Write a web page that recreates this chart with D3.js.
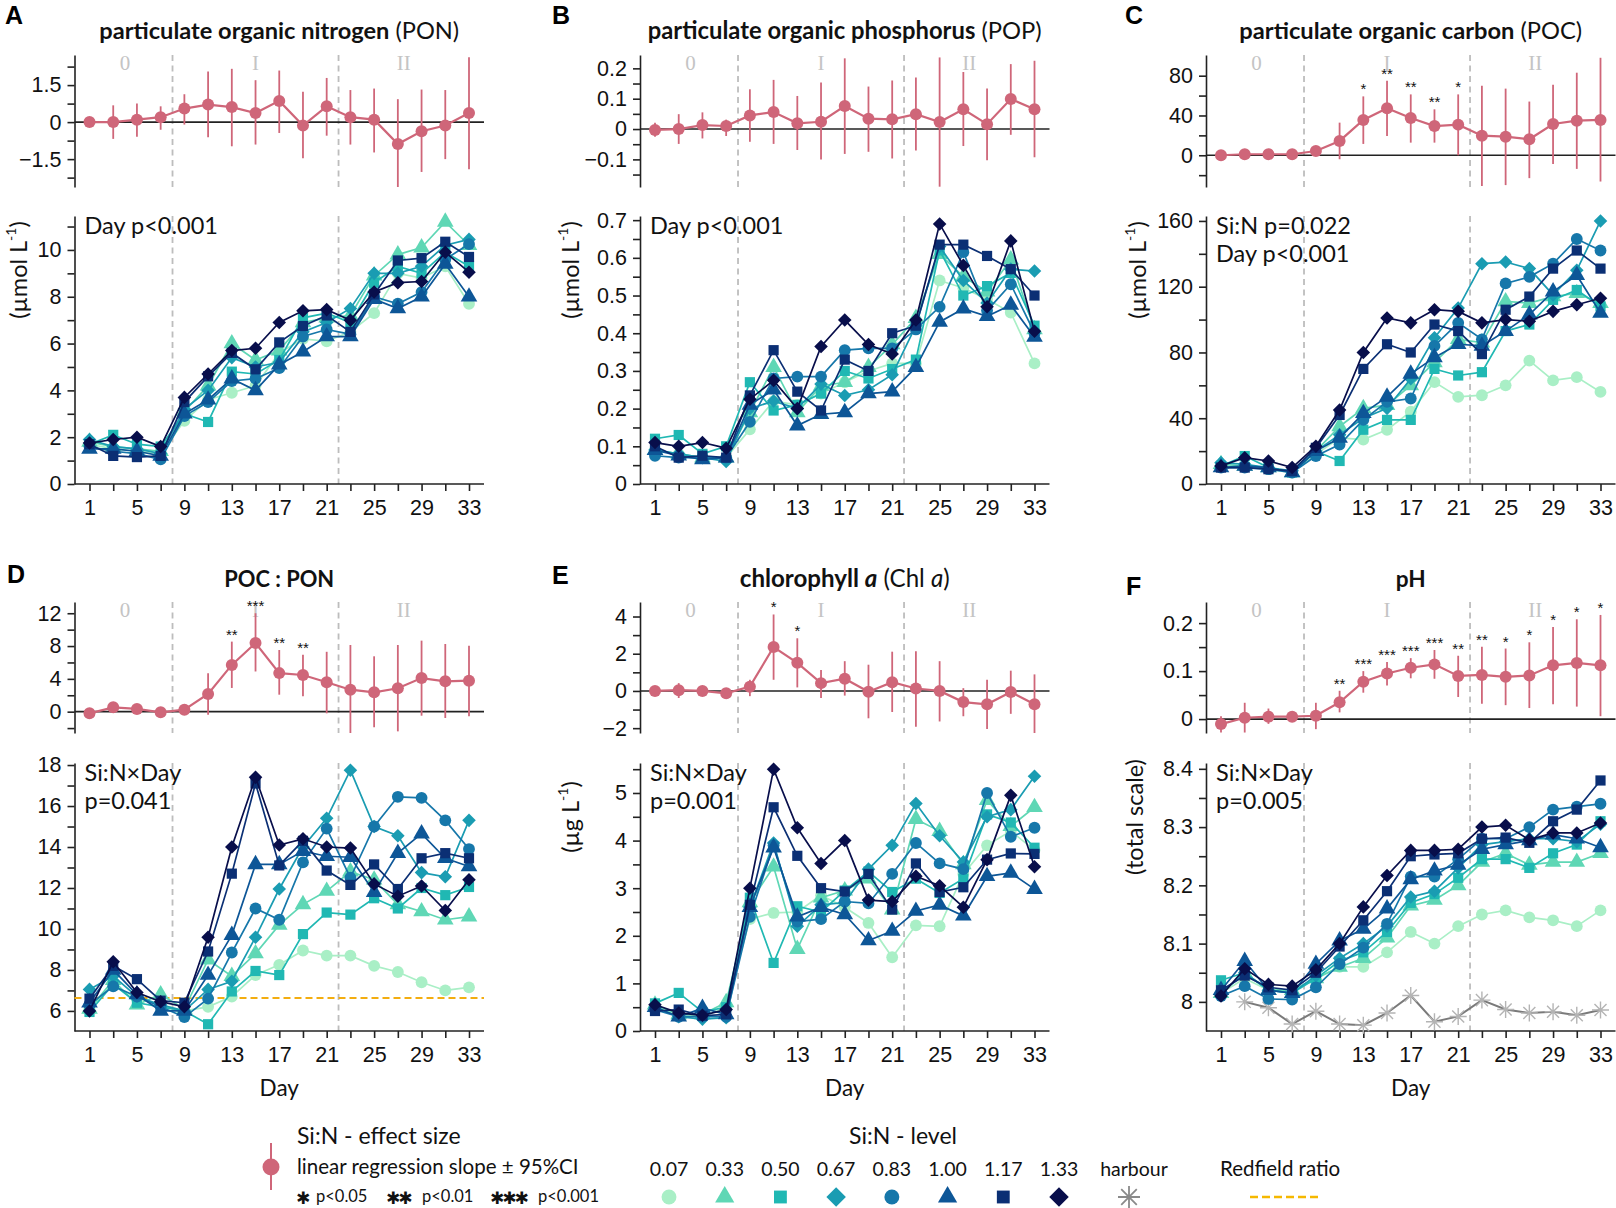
<!DOCTYPE html>
<html>
<head>
<meta charset="utf-8">
<script src="https://cdn.jsdelivr.net/npm/d3@7"></script>
<style>
  body { margin: 0; background: #fff; }
  svg { display: block; }
</style>
</head>
<body>
<svg id="fig" width="1616" height="1208"></svg>
<script>
// ---------- data ----------
const days = [1, 3, 5, 7, 9, 11, 13, 15, 17, 19, 21, 23, 25, 27, 29, 31, 33];
const dayLabels = [1, 5, 9, 13, 17, 21, 25, 29, 33];
const phaseLines = [8, 22];
const phaseNames = ['0', 'I', 'II'];
const phaseCenters = [4, 15, 27.5];

const levels = ['0.07', '0.33', '0.50', '0.67', '0.83', '1.00', '1.17', '1.33'];
const levelColors = ['#a9efc6', '#5fd7b5', '#20b8b3', '#1a9cb2', '#1677aa', '#0d5697', '#0b2f74', '#080e4b'];
const levelShapes = ['circle', 'triangle', 'square', 'diamond', 'circle', 'triangle', 'square', 'diamond'];

// A: PON (µmol/L), one row per Si:N level
const ponSeries = [
  [1.7, 1.5, 1.4, 1.3, 2.7, 3.6, 3.9, 4.2, 5.6, 6.2, 6.1, 6.5, 7.3, 9.0, 8.8, 9.3, 7.7],
  [1.8, 1.6, 1.5, 1.4, 3.1, 4.2, 6.0, 5.3, 5.7, 6.9, 7.1, 7.2, 8.9, 9.8, 10.1, 11.2, 10.2],
  [1.7, 2.1, 1.7, 1.6, 3.0, 2.65, 4.8, 4.7, 5.3, 7.1, 7.3, 6.9, 8.6, 9.3, 9.0, 9.9, 9.3],
  [1.9, 1.6, 1.5, 1.3, 3.2, 4.0, 5.4, 5.0, 5.2, 6.5, 6.9, 7.5, 9.0, 9.0, 9.3, 10.2, 10.45],
  [1.6, 1.4, 1.3, 1.05, 2.9, 3.5, 4.4, 4.5, 4.95, 6.3, 6.6, 6.4, 8.0, 7.7, 8.2, 9.6, 10.25],
  [1.5, 1.5, 1.4, 1.2, 3.0, 3.6, 4.5, 4.0, 5.1, 5.65, 6.3, 6.3, 7.9, 7.5, 8.0, 9.4, 8.0],
  [1.7, 1.2, 1.15, 1.2, 3.5, 4.6, 5.6, 4.9, 6.05, 6.75, 7.2, 6.5, 8.1, 9.55, 9.65, 10.35, 9.7],
  [1.75, 1.9, 2.0, 1.6, 3.7, 4.7, 5.7, 5.8, 6.9, 7.4, 7.45, 7.0, 8.2, 8.6, 8.65, 9.9, 9.05]
];
const ponEffect = [0, 0, 0.1, 0.2, 0.55, 0.71, 0.61, 0.37, 0.86, -0.14, 0.64, 0.2, 0.1, -0.89, -0.37, -0.14, 0.37];
const ponLow = [0, -0.68, -0.59, -0.31, -0.1, -0.61, -0.98, -0.91, -0.44, -1.46, -0.55, -0.91, -1.23, -2.7, -2.02, -1.5, -1.91];
const ponHigh = [0, 0.68, 0.75, 0.64, 1.13, 2.05, 2.16, 1.7, 2.09, 1.23, 1.79, 1.3, 1.36, 0.93, 1.32, 1.3, 2.63];
const ponStars = ['', '', '', '', '', '', '', '', '', '', '', '', '', '', '', '', ''];

// B: POP (µmol/L)
const popSeries = [
  [0.09, 0.08, 0.07, 0.07, 0.145, 0.22, 0.21, 0.24, 0.27, 0.30, 0.32, 0.32, 0.54, 0.52, 0.49, 0.455, 0.32],
  [0.09, 0.08, 0.07, 0.07, 0.19, 0.31, 0.19, 0.26, 0.27, 0.31, 0.37, 0.44, 0.61, 0.55, 0.51, 0.595, 0.41],
  [0.12, 0.13, 0.08, 0.10, 0.27, 0.195, 0.21, 0.24, 0.30, 0.28, 0.305, 0.33, 0.62, 0.50, 0.525, 0.56, 0.42],
  [0.09, 0.08, 0.07, 0.06, 0.20, 0.22, 0.20, 0.265, 0.235, 0.25, 0.29, 0.42, 0.63, 0.54, 0.48, 0.57, 0.565],
  [0.075, 0.07, 0.07, 0.07, 0.165, 0.28, 0.285, 0.285, 0.355, 0.36, 0.36, 0.41, 0.47, 0.615, 0.46, 0.53, 0.40],
  [0.09, 0.075, 0.065, 0.07, 0.21, 0.25, 0.155, 0.185, 0.19, 0.24, 0.245, 0.31, 0.43, 0.465, 0.445, 0.475, 0.39],
  [0.10, 0.07, 0.075, 0.07, 0.235, 0.355, 0.245, 0.195, 0.33, 0.30, 0.40, 0.42, 0.635, 0.635, 0.605, 0.57, 0.50],
  [0.11, 0.10, 0.11, 0.095, 0.225, 0.275, 0.20, 0.365, 0.435, 0.37, 0.345, 0.435, 0.69, 0.58, 0.47, 0.645, 0.405]
];
const popEffect = [-0.003, 0, 0.013, 0.01, 0.045, 0.056, 0.019, 0.024, 0.076, 0.034, 0.032, 0.049, 0.023, 0.065, 0.016, 0.099, 0.065];
const popLow = [-0.025, -0.049, -0.031, -0.023, -0.042, -0.049, -0.069, -0.1, -0.082, -0.075, -0.097, -0.071, -0.19, -0.056, -0.103, -0.019, -0.093];
const popHigh = [0.021, 0.049, 0.055, 0.031, 0.131, 0.162, 0.109, 0.153, 0.233, 0.14, 0.16, 0.17, 0.236, 0.188, 0.134, 0.214, 0.225];
const popStars = ['', '', '', '', '', '', '', '', '', '', '', '', '', '', '', '', ''];

// C: POC (µmol/L)
const pocSeries = [
  [11, 11, 9, 7, 18, 28, 27, 33, 44, 62, 53, 54, 60, 75, 63, 65, 56],
  [12, 11, 10, 7, 20, 35, 46, 48, 60, 74, 88, 86, 111, 110, 114, 116, 110],
  [11, 17, 10, 7, 20, 14, 33, 39, 39, 70, 66, 68, 93, 97, 112, 118, 108],
  [13, 12, 10, 8, 20, 30, 40, 46, 64, 89, 107, 134, 135, 131, 115, 130, 160],
  [10, 10, 9, 7, 17, 24, 39, 50, 52, 84, 98, 88, 122, 126, 134, 149, 142],
  [10, 11, 10, 7, 20, 28, 43, 53, 67, 77, 85, 84, 93, 103, 117, 127, 104],
  [10, 10, 9, 8, 22, 42, 70, 85, 80, 97, 93, 79, 106, 114, 131, 142, 131],
  [11, 16, 14, 10, 23, 45, 80, 101, 98, 106, 105, 98, 100, 99, 105, 109, 113]
];
const pocEffect = [0, 1, 1, 1, 4.3, 14.4, 35.5, 47.2, 37.5, 29.4, 30.8, 19.7, 18.7, 16.1, 31.4, 34.8, 35.5];
const pocLow = [0, 0, 0, 0, 2, -4, 11.4, 19.4, 12.7, 12.7, 0, -31, -30, -23, -8.7, -13.7, -26.4];
const pocHigh = [0, 2, 2, 2, 6, 32.8, 59.2, 75, 61.2, 46.2, 61.2, 70, 67, 54, 71, 83, 98];
const pocStars = ['', '', '', '', '', '', '*', '**', '**', '**', '*', '', '', '', '', '', ''];

// D: POC:PON (mol:mol)
const ratioSeries = [
  [6.1, 7.3, 6.6, 6.3, 6.0, 6.2, 6.7, 7.75, 8.25, 8.95, 8.7, 8.7, 8.2, 7.9, 7.4, 7.0, 7.15],
  [6.1, 7.5, 6.3, 6.8, 6.1, 8.5, 7.7, 8.8, 10.2, 11.2, 11.85, 12.8, 12.4, 11.2, 10.85, 10.45, 10.6],
  [5.95, 7.3, 6.4, 6.2, 6.0, 5.35, 6.95, 7.95, 7.75, 9.75, 10.8, 10.7, 11.5, 11.0, 12.0, 11.65, 12.05],
  [7.05, 7.7, 6.7, 6.3, 6.0, 7.05, 7.45, 9.6, 11.95, 14.0, 15.4, 17.75, 15.0, 14.55, 12.75, 12.55, 15.3],
  [6.3, 7.2, 6.7, 6.2, 5.7, 6.6, 8.85, 11.0, 10.45, 13.25, 14.9, 12.5, 15.0, 16.45, 16.4, 15.3, 13.9],
  [6.4, 8.0, 6.8, 6.0, 6.0, 7.75, 9.7, 13.15, 13.15, 13.8, 13.55, 13.5, 11.8, 13.7, 14.65, 13.45, 13.05],
  [6.6, 8.2, 7.55, 6.5, 6.4, 8.9, 12.7, 17.1, 13.1, 14.3, 12.85, 12.15, 13.15, 11.95, 13.45, 13.7, 13.45],
  [6.0, 8.4, 6.9, 6.45, 6.2, 9.6, 14.0, 17.4, 14.1, 14.4, 14.0, 13.95, 12.2, 11.6, 12.1, 10.9, 12.4]
];
const ratioEffect = [-0.2, 0.53, 0.33, -0.08, 0.24, 2.15, 5.7, 8.37, 4.7, 4.47, 3.58, 2.68, 2.36, 2.85, 4.1, 3.7, 3.78];
const ratioLow = [-0.4, 0, 0, -0.2, 0, -0.37, 2.89, 4.9, 2.07, 1.87, -0.2, -2.64, -1.9, -2.4, -0.49, -0.77, -0.57];
const ratioHigh = [0, 0.9, 0.7, 0, 0.5, 4.67, 8.54, 12, 7.52, 6.95, 7.3, 8.13, 6.75, 8.13, 8.66, 8.25, 8.05];
const ratioStars = ['', '', '', '', '', '', '**', '***', '**', '**', '', '', '', '', '', '', ''];
const redfield = 6.625;

// E: chlorophyll a (µg/L)
const chlSeries = [
  [0.5, 0.35, 0.3, 0.5, 2.35, 2.48, 2.5, 2.85, 2.6, 2.27, 1.55, 2.22, 2.2, 3.3, 3.9, 4.2, 3.8],
  [0.55, 0.35, 0.35, 0.6, 2.7, 3.45, 1.72, 2.8, 2.95, 3.2, 2.55, 4.45, 4.2, 3.5, 4.85, 4.3, 4.7],
  [0.58, 0.8, 0.4, 0.5, 2.8, 1.43, 2.62, 2.5, 2.95, 3.35, 2.92, 3.2, 2.9, 3.2, 4.55, 4.38, 3.85],
  [0.5, 0.3, 0.25, 0.28, 2.6, 3.95, 2.2, 2.65, 2.7, 3.4, 3.9, 4.78, 4.1, 3.55, 4.5, 4.65, 5.35],
  [0.45, 0.3, 0.3, 0.3, 2.4, 3.9, 2.3, 2.35, 2.72, 2.68, 3.3, 3.95, 3.52, 3.4, 5.0, 4.08, 4.27],
  [0.5, 0.3, 0.48, 0.35, 2.6, 3.85, 2.4, 2.6, 2.45, 1.9, 2.1, 2.52, 2.65, 2.42, 3.25, 3.32, 2.98],
  [0.42, 0.45, 0.32, 0.35, 2.65, 4.7, 3.68, 3.0, 2.93, 3.3, 2.55, 3.52, 2.92, 3.02, 3.6, 3.73, 3.72],
  [0.55, 0.38, 0.33, 0.45, 3.0, 5.5, 4.27, 3.52, 4.0, 2.75, 2.72, 3.25, 3.05, 2.6, 3.6, 4.95, 3.45]
];
const chlEffect = [0, 0.04, 0, -0.13, 0.23, 2.36, 1.51, 0.42, 0.66, -0.04, 0.47, 0.13, 0, -0.6, -0.72, -0.06, -0.72];
const chlLow = [0, -0.38, -0.1, -0.25, -0.28, 0.6, 0.19, -0.38, -0.25, -1.47, -1.13, -1.92, -1.64, -1.36, -2.04, -1.23, -2.26];
const chlHigh = [0, 0.42, 0.1, 0, 0.6, 4.11, 2.83, 1.13, 1.6, 1.41, 2.11, 2.13, 1.6, 0.15, 0.6, 1.09, 0.89];
const chlStars = ['', '', '', '', '', '*', '*', '', '', '', '', '', '', '', '', '', ''];

// F: pH (total scale)
const phSeries = [
  [8.015, 8.04, 8.02, 8.02, 8.04, 8.06, 8.06, 8.085, 8.12, 8.1, 8.13, 8.15, 8.157, 8.145, 8.14, 8.13, 8.157],
  [8.015, 8.05, 8.02, 8.02, 8.04, 8.06, 8.075, 8.11, 8.165, 8.175, 8.2, 8.24, 8.255, 8.235, 8.24, 8.24, 8.255],
  [8.037, 8.05, 8.02, 8.015, 8.04, 8.07, 8.085, 8.12, 8.17, 8.185, 8.213, 8.245, 8.245, 8.23, 8.255, 8.27, 8.31],
  [8.015, 8.05, 8.02, 8.015, 8.045, 8.075, 8.1, 8.13, 8.18, 8.19, 8.23, 8.27, 8.275, 8.28, 8.28, 8.275, 8.305],
  [8.01, 8.027, 8.005, 8.004, 8.025, 8.065, 8.093, 8.134, 8.215, 8.215, 8.245, 8.28, 8.28, 8.3, 8.33, 8.335, 8.34],
  [8.02, 8.07, 8.02, 8.015, 8.065, 8.105, 8.125, 8.16, 8.21, 8.225, 8.235, 8.262, 8.27, 8.277, 8.287, 8.28, 8.265],
  [8.02, 8.045, 8.025, 8.02, 8.05, 8.095, 8.14, 8.19, 8.25, 8.253, 8.255, 8.28, 8.282, 8.273, 8.31, 8.33, 8.38],
  [8.01, 8.057, 8.03, 8.027, 8.055, 8.1, 8.163, 8.217, 8.26, 8.26, 8.262, 8.3, 8.303, 8.278, 8.29, 8.29, 8.307]
];
const harbourDays = [3, 5, 7, 9, 11, 13, 15, 17, 19, 21, 23, 25, 27, 29, 31, 33];
const harbourPh = [8.0, 7.99, 7.962, 7.984, 7.962, 7.96, 7.981, 8.011, 7.966, 7.975, 8.003, 7.987, 7.981, 7.983, 7.977, 7.986];
const phEffect = [-0.0104, 0.0028, 0.005, 0.005, 0.007, 0.035, 0.078, 0.095, 0.107, 0.114, 0.09, 0.092, 0.088, 0.091, 0.112, 0.117, 0.112];
const phLow = [-0.028, -0.028, -0.01, -0.006, -0.021, 0.014, 0.055, 0.07, 0.085, 0.084, 0.046, 0.032, 0.029, 0.023, 0.031, 0.026, 0.006];
const phHigh = [0.006, 0.034, 0.022, 0.015, 0.034, 0.059, 0.1, 0.119, 0.127, 0.144, 0.132, 0.151, 0.147, 0.16, 0.192, 0.208, 0.217];
const phStars = ['', '', '', '', '', '**', '***', '***', '***', '***', '**', '**', '*', '*', '*', '*', '*'];

// ---------- layout ----------
const svg = d3.select('#fig');
const SANS = 'Lato, "Open Sans", sans-serif';
const ARIAL = '"Liberation Sans", Arial, sans-serif';
const SERIF = '"Liberation Serif", "Times New Roman", serif';
const EFFECT_COLOR = '#cf6679';
const AXIS_COLOR = '#222';

const cols = [{ day1: 89.5 }, { day1: 655 }, { day1: 1221 }];
const rows = [
  { t0: 55, t1: 187, m0: 216, m1: 484, titleY: 39 },
  { t0: 602, t1: 733, m0: 763, m1: 1031, titleY: 587 }
];
const SPAN = 379.5; // px between day 1 and day 33

const panels = [
  {
    letter: 'A', col: 0, row: 0, letterX: 5, letterY: 24, titleW: 360,
    title: [['particulate organic nitrogen', 'bold', 'normal'], [' (PON)', 'normal', 'normal']],
    yLabel: ['(µmol L', '-1', ')'], yLabelDx: -57,
    top: [-2.63, 2.72], topTicks: [-1.5, 0, 1.5], topLabels: ['\u22121.5', '0', '1.5'], topMinor: [-2.25, -0.75, 0.75, 2.25],
    main: [0, 11.45], mainTicks: [0, 2, 4, 6, 8, 10], mainLabels: ['0', '2', '4', '6', '8', '10'], mainMinor: [1, 3, 5, 7, 9, 11],
    series: ponSeries, eff: ponEffect, lo: ponLow, hi: ponHigh, stars: ponStars,
    notes: ['Day p<0.001']
  },
  {
    letter: 'B', col: 1, row: 0, letterX: 552, letterY: 24, titleW: 394,
    title: [['particulate organic phosphorus', 'bold', 'normal'], [' (POP)', 'normal', 'normal']],
    yLabel: ['(µmol L', '-1', ')'], yLabelDx: -70,
    top: [-0.191, 0.244], topTicks: [-0.1, 0, 0.1, 0.2], topLabels: ['\u22120.1', '0', '0.1', '0.2'], topMinor: [-0.15, -0.05, 0.05, 0.15],
    main: [0, 0.711], mainTicks: [0, 0.1, 0.2, 0.3, 0.4, 0.5, 0.6, 0.7], mainLabels: ['0', '0.1', '0.2', '0.3', '0.4', '0.5', '0.6', '0.7'],
    mainMinor: [0.05, 0.15, 0.25, 0.35, 0.45, 0.55, 0.65],
    series: popSeries, eff: popEffect, lo: popLow, hi: popHigh, stars: popStars,
    notes: ['Day p<0.001']
  },
  {
    letter: 'C', col: 2, row: 0, letterX: 1125, letterY: 24, titleW: 343,
    title: [['particulate organic carbon', 'bold', 'normal'], [' (POC)', 'normal', 'normal']],
    yLabel: ['(µmol L', '-1', ')'], yLabelDx: -69,
    top: [-31.9, 100.8], topTicks: [0, 40, 80], topLabels: ['0', '40', '80'], topMinor: [-20, 20, 60],
    main: [0, 163], mainTicks: [0, 40, 80, 120, 160], mainLabels: ['0', '40', '80', '120', '160'], mainMinor: [20, 60, 100, 140],
    series: pocSeries, eff: pocEffect, lo: pocLow, hi: pocHigh, stars: pocStars,
    notes: ['Si:N p=0.022', 'Day p<0.001']
  },
  {
    letter: 'D', col: 0, row: 1, letterX: 7, letterY: 583, titleW: 110,
    title: [['POC : PON', 'bold', 'normal']],
    yLabel: null,
    top: [-2.6, 13.37], topTicks: [0, 4, 8, 12], topLabels: ['0', '4', '8', '12'], topMinor: [-2, 2, 6, 10],
    main: [5.02, 18.1], mainTicks: [6, 8, 10, 12, 14, 16, 18], mainLabels: ['6', '8', '10', '12', '14', '16', '18'], mainMinor: [7, 9, 11, 13, 15, 17],
    series: ratioSeries, eff: ratioEffect, lo: ratioLow, hi: ratioHigh, stars: ratioStars,
    notes: ['Si:N\u00d7Day', 'p=0.041'], redfield: true
  },
  {
    letter: 'E', col: 1, row: 1, letterX: 552, letterY: 584, titleW: 210,
    title: [['chlorophyll ', 'bold', 'normal'], ['a', 'bold', 'italic'], [' (Chl ', 'normal', 'normal'], ['a', 'normal', 'italic'], [')', 'normal', 'normal']],
    yLabel: ['(µg L', '-1', ')'], yLabelDx: -70,
    top: [-2.26, 4.78], topTicks: [-2, 0, 2, 4], topLabels: ['\u22122', '0', '2', '4'], topMinor: [-1, 1, 3],
    main: [0, 5.63], mainTicks: [0, 1, 2, 3, 4, 5], mainLabels: ['0', '1', '2', '3', '4', '5'], mainMinor: [0.5, 1.5, 2.5, 3.5, 4.5, 5.5],
    series: chlSeries, eff: chlEffect, lo: chlLow, hi: chlHigh, stars: chlStars,
    notes: ['Si:N\u00d7Day', 'p=0.001']
  },
  {
    letter: 'F', col: 2, row: 1, letterX: 1126, letterY: 595, titleW: 30,
    title: [['pH', 'bold', 'normal']],
    yLabel: ['(total scale)'], yLabelDx: -72,
    top: [-0.029, 0.244], topTicks: [0, 0.1, 0.2], topLabels: ['0', '0.1', '0.2'], topMinor: [0.05, 0.15],
    main: [7.95, 8.41], mainTicks: [8, 8.1, 8.2, 8.3, 8.4], mainLabels: ['8', '8.1', '8.2', '8.3', '8.4'], mainMinor: [8.05, 8.15, 8.25, 8.35],
    series: phSeries, eff: phEffect, lo: phLow, hi: phHigh, stars: phStars,
    notes: ['Si:N\u00d7Day', 'p=0.005'], harbour: true
  }
];

// ---------- helpers ----------
const symbolTypes = {
  circle: d3.symbolCircle, triangle: d3.symbolTriangle, square: d3.symbolSquare, diamond: d3.symbolSquare
};
const plotSizes = { circle: 110, triangle: 120, square: 104, diamond: 92 };
const legendSizes = { circle: 175, triangle: 160, square: 165, diamond: 190 };

function markerPath(shape, sizes) {
  return d3.symbol().type(symbolTypes[shape]).size(sizes[shape])();
}
function markerTransform(shape, px, py) {
  return `translate(${px},${py})` + (shape === 'diamond' ? ' rotate(45)' : '');
}
function asteriskPath(r) {
  const a = r * Math.SQRT1_2;
  return `M0,${-r}V${r}M${-r},0H${r}M${-a},${-a}L${a},${a}M${-a},${a}L${a},${-a}`;
}

function styleAxis(sel) {
  sel.select('.domain').attr('stroke', AXIS_COLOR).attr('stroke-width', 1.6);
  sel.selectAll('.tick line').attr('stroke', AXIS_COLOR).attr('stroke-width', 1.6);
  sel.selectAll('.tick text').attr('fill', '#111');
  sel.attr('font-family', ARIAL).attr('font-size', 21.5);
}

function yAxis(g, scale, x0, ticks, labels, minor) {
  const major = d3.axisLeft(scale).tickValues(ticks).tickFormat((d, i) => labels[i])
    .tickSize(7).tickSizeOuter(0).tickPadding(6);
  g.append('g').attr('transform', `translate(${x0},0)`).call(major).call(styleAxis);
  const mn = d3.axisLeft(scale).tickValues(minor).tickFormat('').tickSize(7).tickSizeOuter(0);
  g.append('g').attr('transform', `translate(${x0},0)`).call(mn).call(styleAxis)
    .call(s => s.select('.domain').remove());
}

function drawPanel(p) {
  const c = cols[p.col], r = rows[p.row];
  const axisX = c.day1 - 15, endX = c.day1 + SPAN + 15;
  const x = d3.scaleLinear().domain([1, 33]).range([c.day1, c.day1 + SPAN]);
  const yT = d3.scaleLinear().domain(p.top).range([r.t1, r.t0]).clamp(true);
  const yM = d3.scaleLinear().domain(p.main).range([r.m1, r.m0]);
  const g = svg.append('g');

  // panel letter & title (font size fitted to the reference title width)
  g.append('text').attr('x', p.letterX).attr('y', p.letterY)
    .attr('font-family', ARIAL).attr('font-weight', 'bold').attr('font-size', 25).text(p.letter);
  const t = g.append('text').attr('x', (axisX + endX) / 2).attr('y', r.titleY)
    .attr('text-anchor', 'middle').attr('font-family', SANS).attr('font-size', 21).attr('fill', '#111');
  p.title.forEach(([s, w, st]) => t.append('tspan').attr('font-weight', w).attr('font-style', st).text(s));
  const tw = t.node().getComputedTextLength();
  if (tw > 0) t.attr('font-size', Math.min(25, Math.max(19, 21 * p.titleW / tw)));

  // phase separators
  phaseLines.forEach(d => {
    [[r.t0, r.t1], [r.m0, r.m1]].forEach(([a, b]) => {
      g.append('line').attr('x1', x(d)).attr('x2', x(d)).attr('y1', a).attr('y2', b)
        .attr('stroke', '#bdbdbd').attr('stroke-width', 1.8).attr('stroke-dasharray', '6,4.5');
    });
  });
  phaseNames.forEach((n, i) => {
    g.append('text').attr('x', x(phaseCenters[i])).attr('y', r.t0 + 15)
      .attr('text-anchor', 'middle').attr('font-family', SERIF).attr('font-size', 21)
      .attr('fill', '#c4c4c4').text(n);
  });

  // ---- effect-size panel ----
  yAxis(g, yT, axisX, p.topTicks, p.topLabels, p.topMinor);
  g.append('line').attr('x1', axisX).attr('x2', endX).attr('y1', yT(0)).attr('y2', yT(0))
    .attr('stroke', AXIS_COLOR).attr('stroke-width', 1.6);

  const eff = days.map((d, i) => ({ d, v: p.eff[i], lo: p.lo[i], hi: p.hi[i], s: p.stars[i] }));
  g.selectAll(null).data(eff).join('line')
    .attr('x1', e => x(e.d)).attr('x2', e => x(e.d))
    .attr('y1', e => yT(e.lo)).attr('y2', e => yT(e.hi))
    .attr('stroke', EFFECT_COLOR).attr('stroke-width', 1.8);
  g.append('path').datum(eff)
    .attr('d', d3.line().x(e => x(e.d)).y(e => yT(e.v)))
    .attr('fill', 'none').attr('stroke', EFFECT_COLOR).attr('stroke-width', 2.2);
  g.selectAll(null).data(eff).join('circle')
    .attr('cx', e => x(e.d)).attr('cy', e => yT(e.v)).attr('r', 6).attr('fill', EFFECT_COLOR);
  g.selectAll(null).data(eff.filter(e => e.s)).join('text')
    .attr('x', e => x(e.d)).attr('y', e => yT(e.hi) - 2)
    .attr('text-anchor', 'middle').attr('font-family', ARIAL).attr('font-size', 15)
    .attr('fill', '#111').text(e => e.s);

  // ---- main panel ----
  yAxis(g, yM, axisX, p.mainTicks, p.mainLabels, p.mainMinor);
  const xa = d3.axisBottom(x).tickValues(days).tickFormat(d => dayLabels.includes(d) ? d : '')
    .tickSize(7).tickSizeOuter(0).tickPadding(9);
  g.append('g').attr('transform', `translate(0,${r.m1})`).call(xa).call(styleAxis)
    .call(s => s.select('.domain').remove());
  g.append('line').attr('x1', axisX).attr('x2', endX).attr('y1', r.m1).attr('y2', r.m1)
    .attr('stroke', AXIS_COLOR).attr('stroke-width', 1.6);

  if (p.redfield) {
    g.append('line').attr('x1', axisX).attr('x2', endX).attr('y1', yM(redfield)).attr('y2', yM(redfield))
      .attr('stroke', '#f3ad10').attr('stroke-width', 2).attr('stroke-dasharray', '7,4');
  }

  if (p.harbour) {
    const hp = harbourDays.map((d, i) => [d, harbourPh[i]]);
    g.append('path').datum(hp).attr('d', d3.line().x(d => x(d[0])).y(d => yM(d[1])))
      .attr('fill', 'none').attr('stroke', '#7a7a7a').attr('stroke-width', 2);
    g.selectAll(null).data(hp).join('path')
      .attr('transform', d => `translate(${x(d[0])},${yM(d[1])})`)
      .attr('d', asteriskPath(8.5)).attr('stroke', '#b4b4b4').attr('stroke-width', 1.4).attr('fill', 'none');
  }

  p.series.forEach((vals, i) => {
    const pts = days.map((d, j) => [d, vals[j]]);
    const sg = g.append('g');
    sg.append('path').datum(pts).attr('d', d3.line().x(d => x(d[0])).y(d => yM(d[1])))
      .attr('fill', 'none').attr('stroke', levelColors[i]).attr('stroke-width', 1.7);
    sg.selectAll(null).data(pts).join('path')
      .attr('transform', d => markerTransform(levelShapes[i], x(d[0]), yM(d[1])))
      .attr('d', markerPath(levelShapes[i], plotSizes)).attr('fill', levelColors[i]);
  });

  // statistics note
  p.notes.forEach((n, i) => {
    g.append('text').attr('x', axisX + 10).attr('y', r.m0 + 18 + i * 28)
      .attr('font-family', SANS).attr('font-size', 23.5).attr('fill', '#111').text(n);
  });

  // y label
  if (p.yLabel) {
    const yl = g.append('text')
      .attr('transform', `translate(${axisX + p.yLabelDx},${r.m0 + 54}) rotate(-90)`)
      .attr('text-anchor', 'middle').attr('dominant-baseline', 'central')
      .attr('font-family', SANS).attr('font-size', 23.5).attr('fill', '#111');
    yl.append('tspan').text(p.yLabel[0]);
    if (p.yLabel.length > 1) {
      yl.append('tspan').attr('font-size', 14).attr('dy', -8).text(p.yLabel[1]);
      yl.append('tspan').attr('dy', 8).text(p.yLabel[2]);
    }
  }

  if (p.row === 1) {
    g.append('text').attr('x', (axisX + endX) / 2).attr('y', 1096)
      .attr('text-anchor', 'middle').attr('font-family', SANS).attr('font-size', 22.5)
      .attr('fill', '#111').text('Day');
  }
}

panels.forEach(drawPanel);

// ---------- legend ----------
const lg = svg.append('g').attr('font-family', SANS).attr('fill', '#111');
lg.append('line').attr('x1', 271).attr('x2', 271).attr('y1', 1143).attr('y2', 1190)
  .attr('stroke', EFFECT_COLOR).attr('stroke-width', 2);
lg.append('circle').attr('cx', 271).attr('cy', 1167).attr('r', 8.5).attr('fill', EFFECT_COLOR);
lg.append('text').attr('x', 297).attr('y', 1144).attr('font-size', 23).text('Si:N - effect size');
lg.append('text').attr('x', 297).attr('y', 1174).attr('font-size', 20.5).text('linear regression slope \u00b1 95%CI');

const starKeys = [
  { stars: '\u2731', sx: 296, label: 'p<0.05', lx: 316 },
  { stars: '\u2731\u2731', sx: 386, label: 'p<0.01', lx: 422 },
  { stars: '\u2731\u2731\u2731', sx: 490, label: 'p<0.001', lx: 538 }
];
starKeys.forEach(k => {
  lg.append('text').attr('x', k.sx).attr('y', 1204).attr('font-family', '"DejaVu Sans", sans-serif')
    .attr('font-size', 17).attr('letter-spacing', -2).text(k.stars);
  lg.append('text').attr('x', k.lx).attr('y', 1202).attr('font-size', 16.5).text(k.label);
});

lg.append('text').attr('x', 903).attr('y', 1144).attr('text-anchor', 'middle').attr('font-size', 23).text('Si:N - level');
const legendX = d3.scalePoint().domain(levels).range([669, 1059]);
levels.forEach((lv, i) => {
  lg.append('text').attr('x', legendX(lv)).attr('y', 1176).attr('text-anchor', 'middle')
    .attr('font-size', 19.5).text(lv);
  lg.append('path').attr('transform', markerTransform(levelShapes[i], legendX(lv), 1197))
    .attr('d', markerPath(levelShapes[i], legendSizes)).attr('fill', levelColors[i]);
});
lg.append('text').attr('x', 1134).attr('y', 1176).attr('text-anchor', 'middle').attr('font-size', 19.5).text('harbour');
lg.append('path').attr('transform', 'translate(1129,1197)').attr('d', asteriskPath(11))
  .attr('stroke', '#8a8a8a').attr('stroke-width', 1.8).attr('fill', 'none');
lg.append('text').attr('x', 1220).attr('y', 1176).attr('font-size', 20.5).text('Redfield ratio');
lg.append('line').attr('x1', 1250).attr('x2', 1322).attr('y1', 1197).attr('y2', 1197)
  .attr('stroke', '#f5b800').attr('stroke-width', 2.5).attr('stroke-dasharray', '8,4');
</script>
</body>
</html>
